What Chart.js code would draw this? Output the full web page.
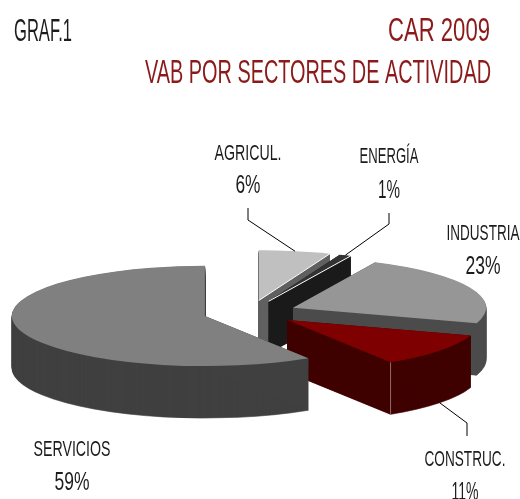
<!DOCTYPE html>
<html>
<head>
<meta charset="utf-8">
<style>
  html, body { margin: 0; padding: 0; background: #fff; overflow: hidden; }
  #box { position: relative; width: 520px; height: 499px; }
</style>
</head>
<body>
<div id="box"><canvas id="pie"></canvas></div>
<script src="https://cdn.jsdelivr.net/npm/chart.js@4/dist/chart.umd.min.js"></script>
<script>
// Chart data
const categories = ['AGRICUL.', 'ENERGÍA', 'INDUSTRIA', 'CONSTRUC.', 'SERVICIOS'];
const shares = [6, 1, 23, 11, 59];

// Colours of each slice
const topColors = ['#c0c0c0', '#333333', '#969696', '#7f0000', '#808080'];
const wallColors = ['#606060', '#1a1a1a', '#4b4b4b', '#3f0000', '#404040'];

// Fake 3D settings
const squash = 0.26;
const depth = 52;
const explode = 47;

const fontName = '"Liberation Sans Narrow", "Liberation Sans", sans-serif';
const darkText = '#1c1c1c';
const redText = '#8b1a1a';

// Label places, one per category: text centre, baselines, text widths, leader line bends
const labelPlaces = [
    { x: 248, nameY: 160, valueY: 193, nameW: 67, valueW: 25, elbow: [248, 220], end: [248, 208] },
    { x: 389, nameY: 163, valueY: 198, nameW: 59, valueW: 22, elbow: [389, 224], end: [389, 213] },
    { x: 483, nameY: 240, valueY: 274, nameW: 73, valueW: 35 },
    { x: 465, nameY: 466, valueY: 500, nameW: 81, valueW: 27, elbow: [467, 423], end: [467, 436], front: true },
    { x: 72, nameY: 456, valueY: 490, nameW: 77, valueW: 35 }
];

// Text squeezed to a given width
function drawText(ctx, text, x, y, size, color, align, width) {
    ctx.save();
    ctx.font = size + 'px ' + fontName;
    ctx.fillStyle = color;
    ctx.textAlign = align;
    ctx.textBaseline = 'alphabetic';
    const stretch = width / ctx.measureText(text).width;
    ctx.translate(x, y);
    ctx.scale(stretch, 1);
    ctx.fillText(text, 0, 0);
    ctx.restore();
}

// Move and flatten the context for one slice
function placeSlice(ctx, arc, lift) {
    const mid = (arc.startAngle + arc.endAngle) / 2;
    ctx.translate(arc.x + Math.cos(mid) * explode, arc.y + Math.sin(mid) * explode * squash + lift);
    ctx.scale(1, squash);
    ctx.translate(-arc.x, -arc.y);
}

// Draw the arc element with another colour, with a thin edge so no seams show
function drawArcWith(ctx, arc, color) {
    const saved = arc.options;
    arc.options = Object.create(saved, {
        backgroundColor: { value: color },
        borderColor: { value: color },
        borderWidth: { value: 1 }
    });
    arc.draw(ctx);
    arc.options = saved;
}

// Screen position of the slice tip
function apexPoint(arc, lift) {
    const mid = (arc.startAngle + arc.endAngle) / 2;
    return [arc.x + Math.cos(mid) * explode, arc.y + Math.sin(mid) * explode * squash + lift];
}

// Screen position of a point on a slice rim
function rimPoint(arc, angle, lift) {
    const apex = apexPoint(arc, lift);
    return [apex[0] + Math.cos(angle) * arc.outerRadius, apex[1] + Math.sin(angle) * arc.outerRadius * squash];
}

function strokeLine(ctx, points, color) {
    ctx.save();
    ctx.strokeStyle = color;
    ctx.lineWidth = 1;
    ctx.beginPath();
    points.forEach((p, i) => i ? ctx.lineTo(p[0], p[1]) : ctx.moveTo(p[0], p[1]));
    ctx.stroke();
    ctx.restore();
}

// Flat face from the slice tip to the rim
function fillCutFace(ctx, arc, angle, color) {
    const corners = [apexPoint(arc, 0), rimPoint(arc, angle, 0), rimPoint(arc, angle, depth), apexPoint(arc, depth)];
    ctx.save();
    ctx.fillStyle = color;
    ctx.beginPath();
    corners.forEach((p, i) => i ? ctx.lineTo(p[0], p[1]) : ctx.moveTo(p[0], p[1]));
    ctx.closePath();
    ctx.fill();
    ctx.restore();
}

// Replaces the flat pie drawing with stacked copies of each arc
const pie3d = {
    id: 'pie3d',
    beforeDatasetDraw(chart, args) {
        const ctx = chart.ctx;
        args.meta.data.forEach((arc, i) => {
            for (let k = depth; k > 0; k--) {
                ctx.save();
                placeSlice(ctx, arc, k);
                drawArcWith(ctx, arc, wallColors[i]);
                ctx.restore();
            }
            fillCutFace(ctx, arc, arc.startAngle, wallColors[i]);
            fillCutFace(ctx, arc, arc.endAngle, wallColors[i]);

            ctx.save();
            placeSlice(ctx, arc, 0);
            arc.draw(ctx);
            ctx.restore();

            // thin highlights seen in the picture
            if (i < 2) {
                strokeLine(ctx, [apexPoint(arc, 0), rimPoint(arc, arc.endAngle, 0)], '#ffffff');
            }
            if (i === 3) {
                strokeLine(ctx, [rimPoint(arc, arc.endAngle, 0), rimPoint(arc, arc.endAngle, depth)], '#8c6a6a');
            }
        });
        return false;
    },
    afterDatasetsDraw(chart) {
        const ctx = chart.ctx;
        const arcs = chart.getDatasetMeta(0).data;

        // Leader lines
        labelPlaces.forEach((place, i) => {
            if (!place.elbow) return;
            const arc = arcs[i];
            const mid = (arc.startAngle + arc.endAngle) / 2;
            const start = rimPoint(arc, mid, place.front ? depth : 0);
            strokeLine(ctx, [start, place.elbow, place.end], '#000000');
        });

        // Slice labels
        categories.forEach((name, i) => {
            const place = labelPlaces[i];
            drawText(ctx, name, place.x, place.nameY, 22, darkText, 'center', place.nameW);
            drawText(ctx, shares[i] + '%', place.x, place.valueY, 25, darkText, 'center', place.valueW);
        });

        // Headings
        drawText(ctx, 'GRAF.1', 14, 41, 31, darkText, 'left', 58);
        drawText(ctx, 'CAR 2009', 490, 41, 34, redText, 'right', 102);
        drawText(ctx, 'VAB POR SECTORES DE ACTIVIDAD', 491, 83, 34, redText, 'right', 346);
    }
};

new Chart(document.getElementById('pie'), {
    type: 'pie',
    data: {
        labels: categories,
        datasets: [{
            data: shares,
            backgroundColor: topColors,
            borderWidth: 0
        }]
    },
    options: {
        responsive: true,
        maintainAspectRatio: false,
        animation: false,
        events: [],
        radius: 193,
        layout: { padding: { right: 20, top: 126 } },
        plugins: {
            legend: { display: false },
            tooltip: { enabled: false }
        }
    },
    plugins: [pie3d]
});
</script>
</body>
</html>
